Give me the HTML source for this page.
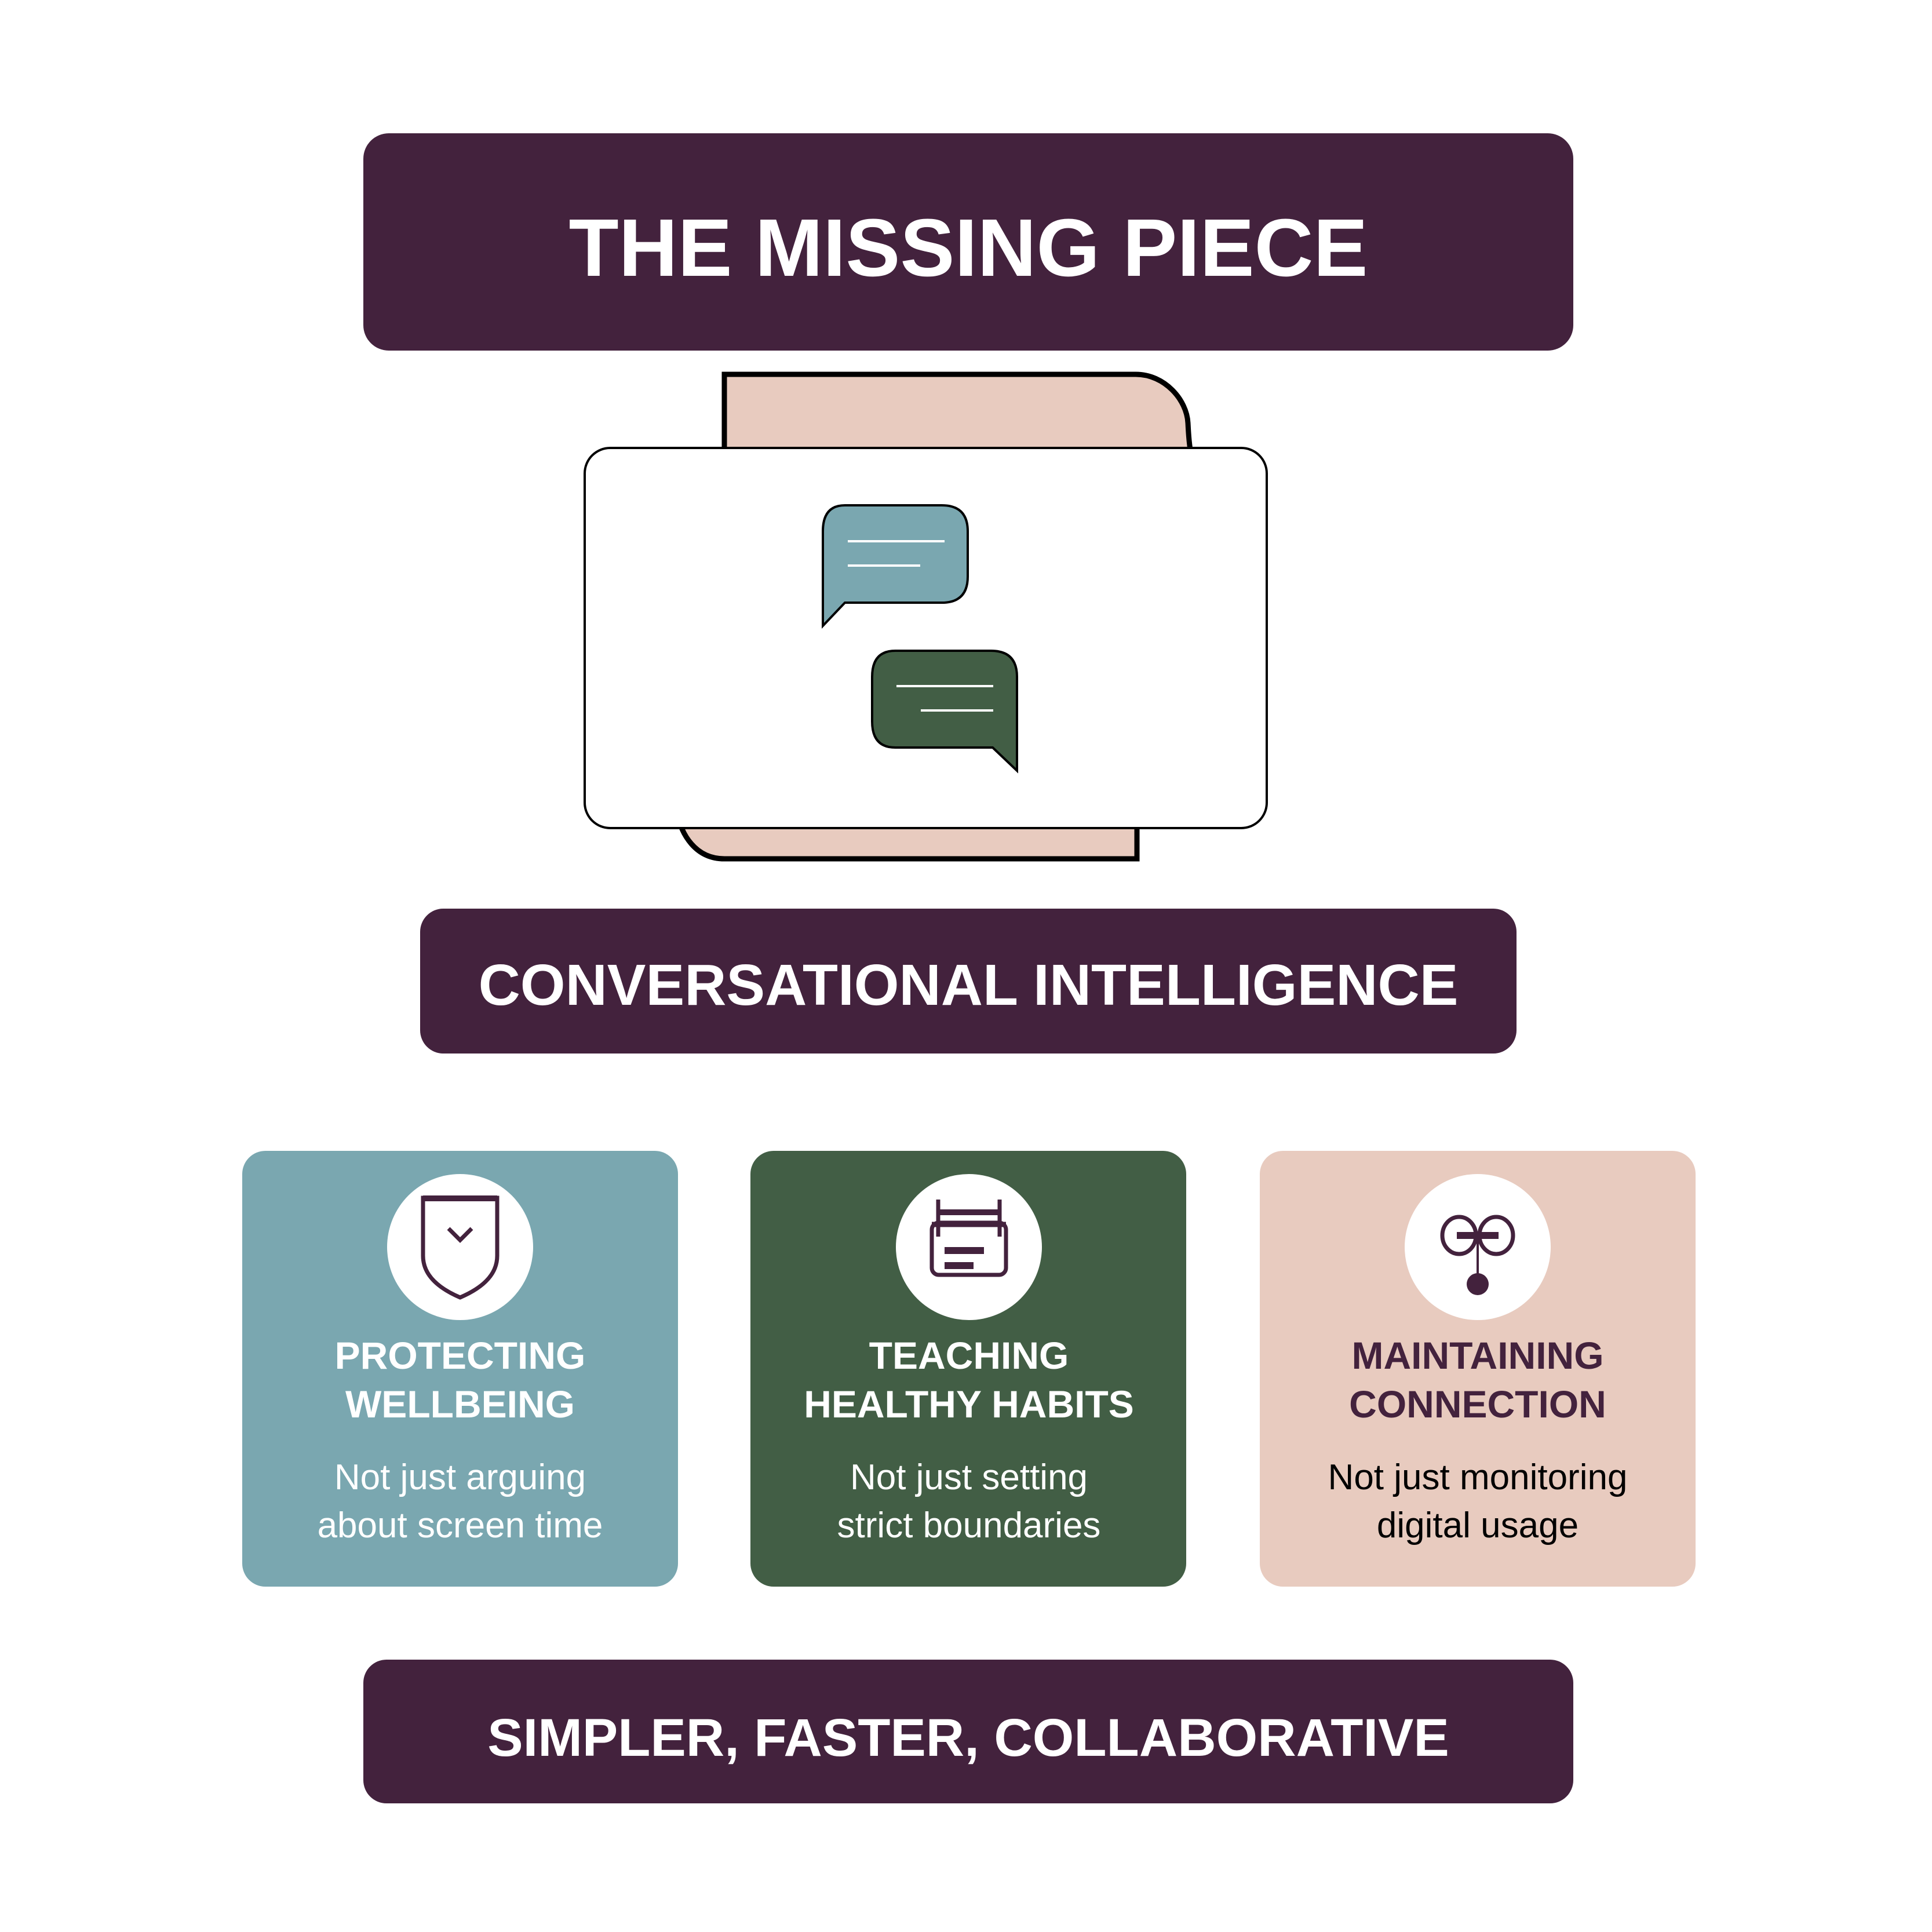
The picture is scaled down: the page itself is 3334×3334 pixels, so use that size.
<!DOCTYPE html>
<html><head><meta charset="utf-8"><style>
html,body{margin:0;padding:0;background:#fff;}
svg{display:block}
text{font-family:"Liberation Sans",sans-serif}
</style></head><body>
<svg width="3334" height="3334" viewBox="0 0 3334 3334" xmlns="http://www.w3.org/2000/svg">
<rect width="3334" height="3334" fill="#fff"/>
<!-- Title -->
<rect x="627" y="230" width="2088" height="375" rx="44" fill="#43223D"/>
<text x="1671" y="476" font-size="141" font-weight="bold" fill="#fff" text-anchor="middle">THE MISSING PIECE</text>

<!-- folder back -->
<path d="M1250,646 H1960 C2010,646 2048,690 2050,730 C2051,750 2052,765 2056,790 L2056,1000 L1962,1000 V1482 H1250 C1200,1482 1175,1440 1168,1400 V1000 L1250,1000 Z" fill="#E8CBBF" stroke="#000" stroke-width="9"/>
<!-- front card -->
<rect x="1009" y="773" width="1177" height="656" rx="44" fill="#fff" stroke="#000" stroke-width="4"/>

<!-- blue bubble -->
<path d="M1458,872 H1625 Q1670,872 1670,917 V995 Q1670,1040 1625,1040 H1458 L1420,1080 V917 Q1420,872 1458,872 Z" fill="#7AA7B0" stroke="#000" stroke-width="4"/>
<line x1="1463" y1="934" x2="1630" y2="934" stroke="#fff" stroke-width="4"/>
<line x1="1463" y1="976" x2="1588" y2="976" stroke="#fff" stroke-width="4"/>
<!-- green bubble -->
<path d="M1545,1123 H1710 Q1755,1123 1755,1168 V1330 L1713,1290 H1545 Q1505,1290 1505,1245 V1168 Q1505,1123 1545,1123 Z" fill="#425E45" stroke="#000" stroke-width="4"/>
<line x1="1547" y1="1184" x2="1714" y2="1184" stroke="#fff" stroke-width="4"/>
<line x1="1589" y1="1226" x2="1714" y2="1226" stroke="#fff" stroke-width="4"/>

<!-- Conversational -->
<rect x="725" y="1568" width="1892" height="250" rx="40" fill="#43223D"/>
<text x="1671" y="1734" font-size="100" font-weight="bold" fill="#fff" text-anchor="middle">CONVERSATIONAL INTELLIGENCE</text>

<!-- Cards -->
<rect x="418" y="1986" width="752" height="752" rx="40" fill="#7AA7B0"/>
<rect x="1295" y="1986" width="752" height="752" rx="40" fill="#425E45"/>
<rect x="2174" y="1986" width="752" height="752" rx="40" fill="#E8CBBF"/>
<circle cx="794" cy="2152" r="126" fill="#fff"/>
<circle cx="1672" cy="2152" r="126" fill="#fff"/>
<circle cx="2550" cy="2152" r="126" fill="#fff"/>

<!-- shield -->
<g transform="translate(794,2152)" fill="none" stroke="#43223D" stroke-width="7">
<path d="M-64,-85 H64 V15 C64,50 35,72 0,87 C-35,72 -64,50 -64,15 Z"/>
<line x1="-64" y1="-84" x2="64" y2="-84" stroke-width="10"/>
<path d="M-20,-32 L0,-12 L20,-32"/>
</g>
<!-- printer -->
<g transform="translate(1672,2152)" fill="none" stroke="#43223D" stroke-width="7">
<line x1="-53" y1="-82" x2="-53" y2="-18"/>
<line x1="53" y1="-82" x2="53" y2="-18"/>
<line x1="-53" y1="-60" x2="53" y2="-60" stroke-width="10"/>
<rect x="-64" y="-42" width="128" height="90" rx="12"/>
<line x1="-64" y1="-39" x2="64" y2="-39" stroke-width="9"/>
<line x1="-42" y1="6" x2="26" y2="6" stroke-width="12"/>
<line x1="-42" y1="32" x2="8" y2="32" stroke-width="12"/>
</g>
<!-- connection -->
<g transform="translate(2550,2152)" fill="none" stroke="#43223D" stroke-width="7">
<ellipse cx="-32" cy="-20" rx="29" ry="32"/>
<ellipse cx="32" cy="-20" rx="29" ry="32"/>
<line x1="-36" y1="-20" x2="36" y2="-20" stroke-width="12"/>
<line x1="0" y1="-20" x2="0" y2="50" stroke-width="4"/>
<circle cx="0" cy="64" r="19" fill="#43223D" stroke="none"/>
</g>

<g font-size="66" font-weight="bold" text-anchor="middle">
<text x="794" y="2362" fill="#fff">PROTECTING</text>
<text x="794" y="2446" fill="#fff">WELLBEING</text>
<text x="1672" y="2362" fill="#fff">TEACHING</text>
<text x="1672" y="2446" fill="#fff">HEALTHY HABITS</text>
<text x="2550" y="2362" fill="#43223D">MAINTAINING</text>
<text x="2550" y="2446" fill="#43223D">CONNECTION</text>
</g>
<g font-size="62" text-anchor="middle">
<text x="794" y="2570" fill="#fff">Not just arguing</text>
<text x="794" y="2653" fill="#fff">about screen time</text>
<text x="1672" y="2570" fill="#fff">Not just setting</text>
<text x="1672" y="2653" fill="#fff">strict boundaries</text>
<text x="2550" y="2570" fill="#000">Not just monitoring</text>
<text x="2550" y="2653" fill="#000">digital usage</text>
</g>

<!-- bottom -->
<rect x="627" y="2864" width="2088" height="248" rx="40" fill="#43223D"/>
<text x="1671" y="3030" font-size="92" font-weight="bold" fill="#fff" text-anchor="middle">SIMPLER, FASTER, COLLABORATIVE</text>
</svg>
</body></html>
